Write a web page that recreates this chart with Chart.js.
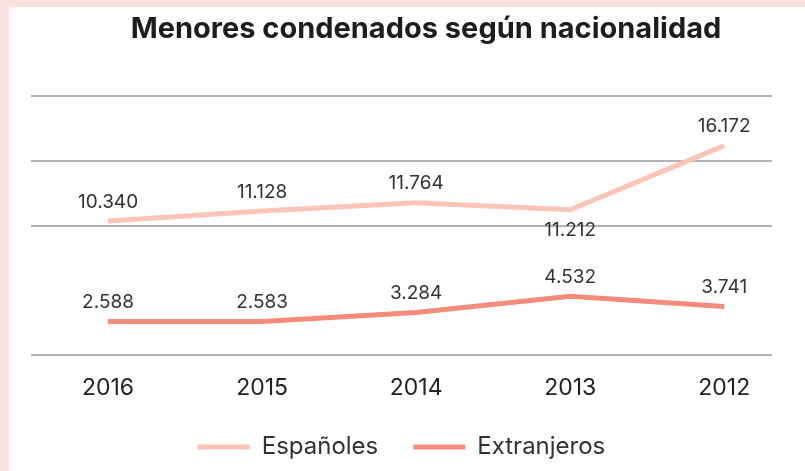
<!DOCTYPE html>
<html>
<head>
<meta charset="utf-8">
<script src="https://cdn.jsdelivr.net/npm/chart.js@4/dist/chart.umd.min.js"></script>
<style>
html, body { margin: 0; padding: 0; overflow: hidden; }
body { width: 805px; height: 471px; background: #fde3df; position: relative; }
#panel { position: absolute; left: 9px; top: 7px; right: 0; bottom: 0; background: #fff; }
#wrap { position: absolute; left: 0; top: 0; width: 821px; height: 471px; }
</style>
</head>
<body>
<div id="panel"></div>
<div id="wrap"><canvas id="chart" width="821" height="471"></canvas></div>
<script>
// Menores condenados según nacionalidad

const years = ["2016", "2015", "2014", "2013", "2012"];
const espanoles = [10340, 11128, 11764, 11212, 16172];
const extranjeros = [2588, 2583, 3284, 4532, 3741];
const yTicks = [0, 10000, 15000, 20000];

// value label above or below the point
const espSide = ["top", "top", "top", "bottom", "top"];
const extSide = ["top", "top", "top", "top", "top"];

const FONT = "Inter";

function fmt(v){
  return String(v).replace(/\B(?=(\d{3})+(?!\d))/g, ".");
}

function toPoints(arr){
  return arr.map(function(v, i){ return {x: i, y: v}; });
}

// draws the numbers next to each point
const valueLabels = {
  id: "valueLabels",
  afterDatasetsDraw(chart){
    const ctx = chart.ctx;
    ctx.save();
    ctx.font = "19px " + FONT;
    ctx.fillStyle = "#333333";
    ctx.textAlign = "center";
    ctx.textBaseline = "middle";
    chart.data.datasets.forEach(function(ds, i){
      const meta = chart.getDatasetMeta(i);
      meta.data.forEach(function(pt, j){
        const y = ds.labelSide[j] == "bottom" ? pt.y + 20 : pt.y - 19;
        ctx.fillText(fmt(ds.data[j].y), pt.x, y);
      });
    });
    ctx.restore();
  }
};

const ctx = document.getElementById("chart").getContext("2d");

new Chart(ctx, {
  type: "line",
  data: {
    datasets: [
      {
        label: "Españoles",
        data: toPoints(espanoles),
        borderColor: "#fcc4b7",
        backgroundColor: "#fcc4b7",
        borderWidth: 5,
        pointRadius: 0,
        tension: 0,
        labelSide: espSide
      },
      {
        label: "Extranjeros",
        data: toPoints(extranjeros),
        borderColor: "#f38c7a",
        backgroundColor: "#f38c7a",
        borderWidth: 5,
        pointRadius: 0,
        tension: 0,
        labelSide: extSide
      }
    ]
  },
  options: {
    responsive: false,
    animation: false,
    layout: { padding: { left: 31, right: 0, top: 0, bottom: 2 } },
    plugins: {
      title: {
        display: true,
        text: "Menores condenados según nacionalidad",
        color: "#1d1d1b",
        font: { family: FONT, size: 29, weight: "bold" },
        padding: { top: 12, bottom: 49.2 }
      },
      legend: {
        position: "bottom",
        fullSize: false,
        labels: {
          usePointStyle: true,
          pointStyle: "line",
          pointStyleWidth: 52,
          padding: 35,
          color: "#333333",
          font: { family: FONT, size: 24 }
        }
      },
      tooltip: { enabled: false }
    },
    scales: {
      x: {
        type: "linear",
        min: -0.5,
        max: 4.31,
        afterBuildTicks: function(s){
          s.ticks = years.map(function(y, i){ return {value: i}; });
        },
        afterFit: function(s){ s.height = 45; },
        grid: { display: false, drawTicks: false },
        border: { display: false },
        ticks: {
          padding: 21.5,
          maxRotation: 0,
          color: "#222222",
          font: { family: FONT, size: 23, lineHeight: 1 },
          callback: function(v){ return years[v]; }
        }
      },
      y: {
        position: "right",
        min: 0,
        max: 20000,
        afterBuildTicks: function(s){
          s.ticks = yTicks.map(function(v){ return {value: v}; });
        },
        afterFit: function(s){ s.width = 49; },
        ticks: { display: false },
        border: { display: false },
        grid: { color: "#b3b3b7", lineWidth: 2, drawTicks: false }
      }
    }
  },
  plugins: [valueLabels]
});
</script>
</body>
</html>
